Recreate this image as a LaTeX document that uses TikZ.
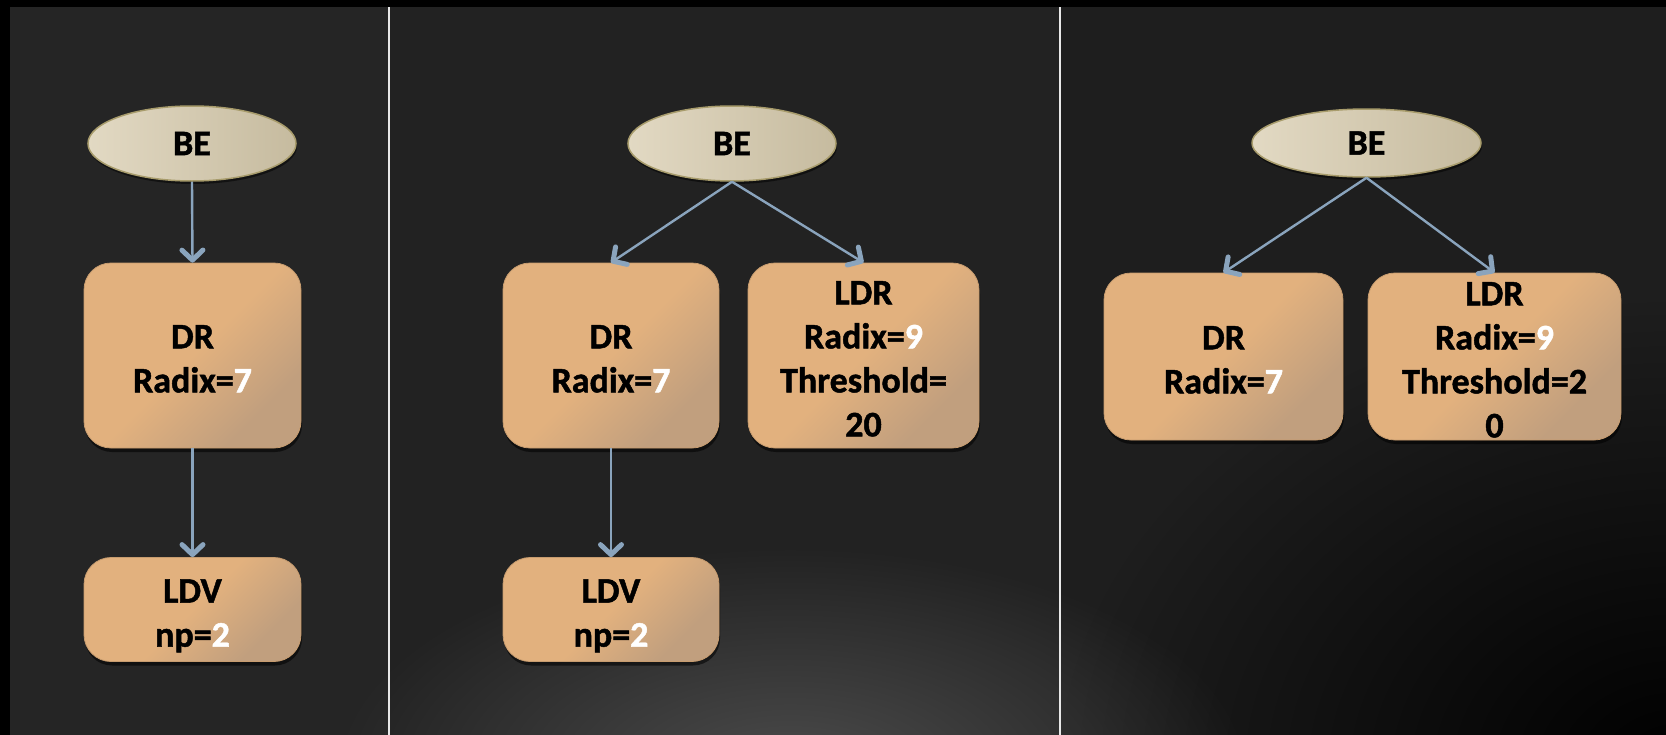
\documentclass[tikz,border=0pt]{standalone}
\usepackage{fontspec}
\setmainfont{Carlito}[BoldFeatures={FakeBold=1.3}]
\usetikzlibrary{shapes.geometric,arrows.meta,shadows,fadings}
\definecolor{bgA}{HTML}{252525}
\definecolor{bgB}{HTML}{222222}
\definecolor{bgP3}{HTML}{1E1E1E}
\definecolor{glowc}{HTML}{4C4C4C}
\definecolor{ellA}{HTML}{E2D9C3}
\definecolor{ellB}{HTML}{C6BB9F}
\definecolor{ellD}{HTML}{A89C6C}
\definecolor{boxA}{HTML}{E2B17E}
\definecolor{boxB}{HTML}{C19F7E}
\definecolor{arr}{HTML}{8AA4BD}
\definecolor{divc}{HTML}{E8E8E8}
\tikzfading[name=glowfade, inner color=transparent!0, outer color=transparent!100]
\pgfdeclareverticalshading{boxsh}{100bp}{color(0bp)=(boxB); color(28bp)=(boxB); color(50bp)=(boxA); color(100bp)=(boxA)}
\tikzset{
  txt/.style={font=\fontsize{36}{44}\selectfont\bfseries, text=black, align=center},
  beell/.style={ellipse, draw=ellD, line width=1.5pt, left color=ellA, right color=ellB,
    inner sep=0pt, txt, drop shadow={shadow xshift=1pt, shadow yshift=-3pt, opacity=0.5, fill=black}},
  cbox/.style={rectangle, rounded corners=27pt, draw=boxA!88!black, line width=0.8pt,
    shading=boxsh, shading angle=45,
    inner sep=0pt, txt, drop shadow={shadow xshift=1pt, shadow yshift=-4pt, opacity=0.55, fill=black}},
  conn/.style={draw=arr, line width=2.4pt, -{Straight Barb[length=10pt,width=21pt,line width'=5pt,round]}},
  divline/.style={draw=divc, line width=2pt}
}
\newcommand{\wdg}[1]{\textcolor{white}{#1}}
\newcommand{\tst}{\rule{0pt}{30pt}}
\newcommand{\tsl}{\rule{0pt}{36pt}}
\begin{document}
\begin{tikzpicture}[x=1pt,y=-1pt]
\useasboundingbox (0,0) rectangle (1666,734);
% background
\fill[black] (-20,-20) rectangle (1690,760);
\fill[bgA] (10,7) rectangle (1690,760);
\fill[bgB] (389,7) rectangle (1060,760);
\fill[bgP3] (1060,7) rectangle (1690,760);
\begin{scope}
  \clip (10,7) rectangle (1690,760);
  \fill[black, path fading=glowfade] (1680,770) ellipse (620pt and 470pt);
  \fill[glowc, path fading=glowfade] (790,775) ellipse (460pt and 230pt);
\end{scope}
\draw[divline] (389,7) -- (389,760);
\draw[divline] (1060,7) -- (1060,760);

% panel 1
\node[beell, minimum width=208pt, minimum height=75pt] (be1) at (192,143.5) {BE};
\node[cbox, minimum width=217pt, minimum height=185pt] (dr1) at (192.5,355.5) {\tst DR\\Radix=\wdg{7}};
\node[cbox, minimum width=217pt, minimum height=104pt] (ldv1) at (192.5,609.5) {\tsl LDV\\np=\wdg{2}};
\draw[conn] (be1.south) -- (dr1.north);
\draw[conn] (dr1.south) -- (ldv1.north);

% panel 2
\node[beell, minimum width=208pt, minimum height=75pt] (be2) at (732,143.5) {BE};
\node[cbox, minimum width=216pt, minimum height=185pt] (dr2) at (611,355.5) {\tst DR\\Radix=\wdg{7}};
\node[cbox, minimum width=231pt, minimum height=185pt] (ldr2) at (863.5,355.5) {\tst LDR\\Radix=\wdg{9}\\Threshold=\\20};
\node[cbox, minimum width=216pt, minimum height=104pt] (ldv2) at (611,609.5) {\tsl LDV\\np=\wdg{2}};
\draw[conn] (be2.south) -- (dr2.north);
\draw[conn] (be2.south) -- (ldr2.north);
\draw[conn] (dr2.south) -- (ldv2.north);

% panel 3
\node[beell, minimum width=229pt, minimum height=68pt] (be3) at (1366.5,143) {BE};
\node[cbox, minimum width=239pt, minimum height=167pt] (dr3) at (1223.5,356.5) {\tst DR\\Radix=\wdg{7}};
\node[cbox, minimum width=253pt, minimum height=167pt] (ldr3) at (1494.5,356.5) {\tst LDR\\Radix=\wdg{9}\\Threshold=2\\0};
\draw[conn] (be3.south) -- (dr3.north);
\draw[conn] (be3.south) -- (ldr3.north);
\end{tikzpicture}
\end{document}
